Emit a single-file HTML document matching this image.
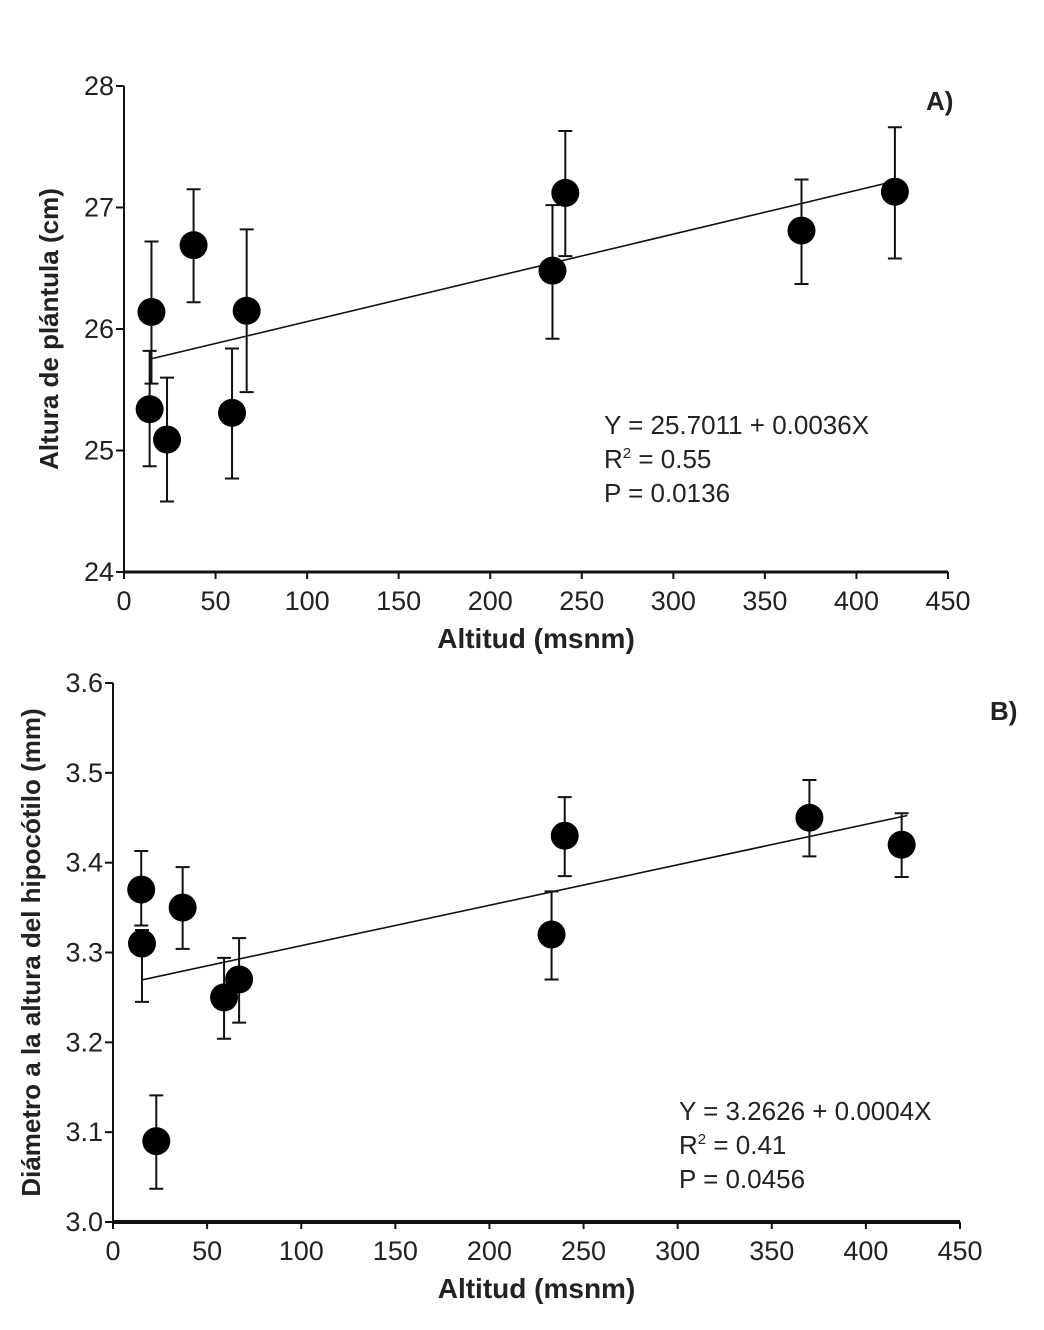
<!DOCTYPE html>
<html><head><meta charset="utf-8"><style>
html,body{margin:0;padding:0;background:#fff;}
svg{display:block;}
text{font-family:"Liberation Sans Narrow","Liberation Sans",sans-serif;fill:#222;}
</style></head><body>
<svg id="chart" width="1044" height="1330" xmlns="http://www.w3.org/2000/svg"></svg>
<script>
const altA=[14,15,23.5,38,59,67,234,241,370,421];
const valA=[25.34,26.14,25.09,26.69,25.31,26.15,26.48,27.12,26.81,27.13];
const errHiA=[25.82,26.72,25.6,27.15,25.84,26.82,27.02,27.63,27.23,27.66];
const errLoA=[24.87,25.55,24.58,26.22,24.77,25.48,25.92,26.6,26.37,26.58];
const altB=[15,15.4,23,37,59,67,233,240,370,419];
const valB=[3.37,3.31,3.09,3.35,3.25,3.27,3.32,3.43,3.45,3.42];
const errHiB=[3.413,3.325,3.141,3.395,3.294,3.316,3.368,3.473,3.492,3.455];
const errLoB=[3.33,3.245,3.037,3.304,3.204,3.222,3.27,3.385,3.407,3.384];
const xTicks=[0,50,100,150,200,250,300,350,400,450];
const yTicksA=[24,25,26,27,28];
const yTicksB=[3.0,3.1,3.2,3.3,3.4,3.5,3.6];
const fitA=[25.7011,0.0036,15,421];
const fitB=[3.2626,0.00045,15,422];

const svg=document.getElementById('chart');
const NS='http://www.w3.org/2000/svg';
function mk(tag,attrs,parent){const e=document.createElementNS(NS,tag);for(const k in attrs)e.setAttribute(k,attrs[k]);(parent||svg).appendChild(e);return e;}

function panel(cfg){
  const g=mk('g',{});
  
  
  const sx=v=>cfg.x0+(v-0)*(cfg.x1-cfg.x0)/450;
  const sy=v=>cfg.yb-(v-cfg.ymin)*(cfg.yb-cfg.yt)/(cfg.ymax-cfg.ymin);
  const ax=mk('line',{x1:cfg.x0,y1:cfg.yt,x2:cfg.x0,y2:cfg.yb,stroke:'#111','stroke-width':2},g);
  
  
  const bx=mk('line',{x1:cfg.x0,y1:cfg.yb,x2:cfg.x1,y2:cfg.yb,stroke:'#111','stroke-width':cfg.xw},g);
  
  
  xTicks.forEach(t=>{
    mk('line',{x1:sx(t),y1:cfg.yb,x2:sx(t),y2:cfg.yb+7,stroke:'#111','stroke-width':2},g);
    const tx=mk('text',{x:sx(t),y:cfg.yb+38,'text-anchor':'middle','font-size':27},g);
    tx.textContent=t;
    
    
  });
  cfg.yTicks.forEach(t=>{
    mk('line',{x1:cfg.x0-8,y1:sy(t),x2:cfg.x0,y2:sy(t),stroke:'#111','stroke-width':2},g);
    const tx=mk('text',{x:cfg.x0-10,y:sy(t)+9,'text-anchor':'end','font-size':27},g);
    tx.textContent=cfg.dec?t.toFixed(1):t;
    
    
  });
  const fl=mk('line',{x1:sx(cfg.fit[2]),y1:sy(cfg.fit[0]+cfg.fit[1]*cfg.fit[2]),x2:sx(cfg.fit[3]),y2:sy(cfg.fit[0]+cfg.fit[1]*cfg.fit[3]),stroke:'#111','stroke-width':1.6},g);
  
  
  cfg.alt.forEach((a,i)=>{
    const x=sx(a);
    const eb=mk('path',{d:`M${x},${sy(cfg.hi[i])}V${sy(cfg.lo[i])}M${x-7},${sy(cfg.hi[i])}H${x+7}M${x-7},${sy(cfg.lo[i])}H${x+7}`,stroke:'#111','stroke-width':2,fill:'none'},g);
    
    
  });
  cfg.alt.forEach((a,i)=>{
    const c=mk('circle',{cx:sx(a),cy:sy(cfg.val[i]),r:14,fill:'#000'},g);
    
    
  });
  const xl=mk('text',{x:(cfg.x0+cfg.x1)/2,y:cfg.yb+76,'text-anchor':'middle','font-size':28,'font-weight':'bold'},g);
  xl.textContent='Altitud (msnm)';
  
  
  const yl=mk('text',{x:0,y:0,'text-anchor':'middle','font-size':26,'font-weight':'bold',transform:`translate(${cfg.ylx},${(cfg.yt+cfg.yb)/2}) rotate(-90)`},g);
  yl.textContent=cfg.ytitle;
  
  
  const pl=mk('text',{x:cfg.lab[0],y:cfg.lab[1],'font-size':26,'font-weight':'bold'},g);
  pl.textContent=cfg.label;
  
  
  cfg.eq.forEach((s,i)=>{
    const t=mk('text',{x:cfg.eqx,y:cfg.eqy+i*34,'font-size':26},g);
    t.innerHTML=s;
    
    
  });
}
panel({name:'panel-a',x0:124,x1:948,yt:86,yb:572,ymin:24,ymax:28,yTicks:yTicksA,dec:false,xw:3,
  alt:altA,val:valA,hi:errHiA,lo:errLoA,fit:fitA,ylx:58,ytitle:'Altura de plántula (cm)',label:'A)',lab:[926,110],
  eq:['Y = 25.7011 + 0.0036X','R<tspan font-size="15" dy="-10">2</tspan><tspan dy="10"> = 0.55</tspan>','P = 0.0136'],eqx:604,eqy:434});
panel({name:'panel-b',x0:113,x1:960,yt:683,yb:1222,ymin:3.0,ymax:3.6,yTicks:yTicksB,dec:true,xw:4,
  alt:altB,val:valB,hi:errHiB,lo:errLoB,fit:fitB,ylx:40,ytitle:'Diámetro a la altura del hipocótilo (mm)',label:'B)',lab:[990,720],
  eq:['Y = 3.2626 + 0.0004X','R<tspan font-size="15" dy="-10">2</tspan><tspan dy="10"> = 0.41</tspan>','P = 0.0456'],eqx:679,eqy:1120});
</script>
</body></html>
